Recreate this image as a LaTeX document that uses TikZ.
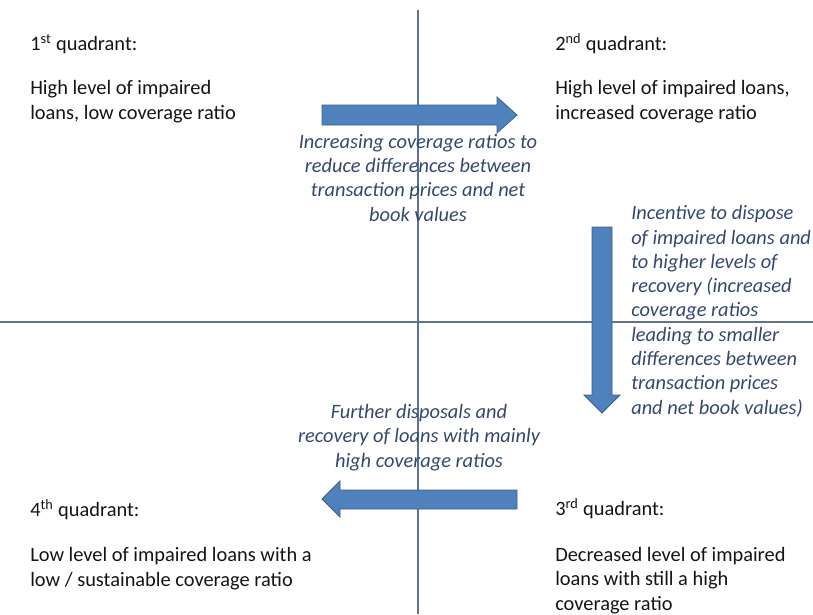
\documentclass[tikz,border=0pt]{standalone}
\usepackage{fontspec}
\setmainfont{Carlito}
\usepackage{tikz}
\usetikzlibrary{positioning}
\definecolor{axisgray}{RGB}{95,115,140}
\definecolor{arrowblue}{RGB}{79,129,189}
\definecolor{arrowedge}{RGB}{56,93,138}
\definecolor{notetext}{RGB}{52,72,110}
\definecolor{quadtext}{RGB}{20,20,20}
\tikzset{
  quadlabel/.style={anchor=base west,inner sep=0pt,align=left,text=quadtext,
    font=\fontsize{15.3}{18.2}\selectfont},
  note/.style={inner sep=0pt,text=notetext,font=\fontsize{15.3}{18.2}\selectfont\itshape},
  blockarrow/.style={fill=arrowblue,draw=arrowedge,line width=0.6pt,line join=miter},
  axis/.style={draw=axisgray,line width=1pt}
}
\begin{document}
\begin{tikzpicture}[x=0.75pt,y=-0.75pt]
  \useasboundingbox (0,0) rectangle (813,614);
  % axes
  \draw[axis] (418,10) -- (418,614);
  \draw[axis] (0,322) -- (813,322);
  % block arrows
  \draw[blockarrow] (322,105) -- (497,105) -- (497,97) -- (517,115)
    -- (497,133) -- (497,125) -- (322,125) -- cycle;
  \draw[blockarrow] (592,227) -- (612,227) -- (612,395) -- (620,395)
    -- (602,413) -- (584,395) -- (592,395) -- cycle;
  \draw[blockarrow] (517,490) -- (340,490) -- (340,481) -- (322,499)
    -- (340,517) -- (340,509) -- (517,509) -- cycle;
  % quadrant texts (anchored at the baseline of their last line)
  \node[quadlabel] (q1) at (30,119) {1\textsuperscript{st} quadrant:\\[15pt]
    High level of impaired\\loans, low coverage ratio};
  \node[quadlabel] (q2) at (555,119) {2\textsuperscript{nd} quadrant:\\[15pt]
    High level of impaired loans,\\increased coverage ratio};
  \node[quadlabel] (q4) at (30,586) {4\textsuperscript{th} quadrant:\\[16pt]
    Low level of impaired loans with a\\low / sustainable coverage ratio};
  \node[quadlabel] (q3) at (555,610) {3\textsuperscript{rd} quadrant:\\[16pt]
    Decreased level of impaired\\loans with still a high\\coverage ratio};
  % notes
  \node[note,anchor=base,align=center] (n12) at (418,221)
    {Increasing coverage ratios to\\reduce differences between\\transaction prices and net\\book values};
  \node[note,anchor=base west,align=left] (n23) at (631,414)
    {Incentive to dispose\\of impaired loans and\\to higher levels of\\recovery (increased\\coverage ratios\\leading to smaller\\differences between\\transaction prices\\and net book values)};
  \node[note,anchor=base,align=center] (n34) at (419,467)
    {Further disposals and\\recovery of loans with mainly\\high coverage ratios};
\end{tikzpicture}
\end{document}
